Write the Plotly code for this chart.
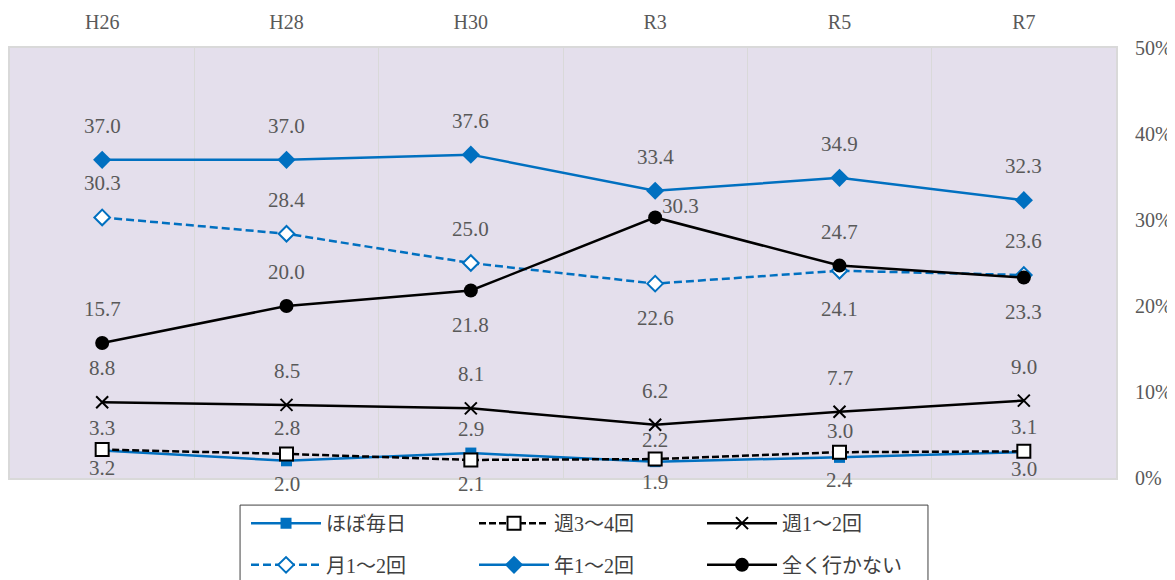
import plotly.graph_objects as go

# ---- data ----
years = ["H26", "H28", "H30", "R3", "R5", "R7"]
hobo_mainichi = [3.2, 2.0, 2.9, 1.9, 2.4, 3.0]
shu_3_4 = [3.3, 2.8, 2.1, 2.2, 3.0, 3.1]
shu_1_2 = [8.8, 8.5, 8.1, 6.2, 7.7, 9.0]
tsuki_1_2 = [30.3, 28.4, 25.0, 22.6, 24.1, 23.6]
nen_1_2 = [37.0, 37.0, 37.6, 33.4, 34.9, 32.3]
mattaku = [15.7, 20.0, 21.8, 30.3, 24.7, 23.3]
series_names = ["ほぼ毎日", "週3～4回", "週1～2回", "月1～2回", "年1～2回", "全く行かない"]
y_ticks = [0, 10, 20, 30, 40, 50]

# ---- styles ----
BLUE = "#0070C0"
BLACK = "#000000"
TXT = "#595959"
FONT = "Liberation Serif, 'Noto Sans CJK JP', serif"

UP, DN = 34, -34
styles = [
    dict(color=BLUE, dash="solid", symbol="square", size=11, fill=BLUE, lc=BLUE, lw=0,
         shifts=[-18, -23, 24, -20, -23, -17], xsh=[0] * 6, legend="legend"),
    dict(color=BLACK, dash="7px,3px", symbol="square", size=13, fill="white", lc=BLACK, lw=2,
         shifts=[22, 26, -24, 19, 21, 24], xsh=[0] * 6, legend="legend"),
    dict(color=BLACK, dash="solid", symbol="x-thin", size=12, fill=BLACK, lc=BLACK, lw=2,
         shifts=[UP] * 6, xsh=[0] * 6, legend="legend"),
    dict(color=BLUE, dash="8px,4px", symbol="diamond", size=12, fill="white", lc=BLUE, lw=2,
         shifts=[UP, UP, UP, DN, -38, UP], xsh=[0] * 6, legend="legend2"),
    dict(color=BLUE, dash="solid", symbol="diamond", size=14, fill=BLUE, lc=BLUE, lw=0,
         shifts=[UP] * 6, xsh=[0] * 6, legend="legend2"),
    dict(color=BLACK, dash="solid", symbol="circle", size=14, fill=BLACK, lc=BLACK, lw=0,
         shifts=[UP, UP, DN, 11, UP, DN], xsh=[0, 0, 0, 25, 0, 0], legend="legend2"),
]
all_values = [hobo_mainichi, shu_3_4, shu_1_2, tsuki_1_2, nen_1_2, mattaku]

fig = go.Figure()
annotations = []
for name, vals, st in zip(series_names, all_values, styles):
    fig.add_trace(go.Scatter(
        x=years, y=vals, name=name, mode="lines+markers",
        line=dict(color=st["color"], width=2.5, dash=st["dash"]),
        marker=dict(symbol=st["symbol"], size=st["size"], color=st["fill"],
                    line=dict(color=st["lc"], width=st["lw"])),
        legend=st["legend"], hoverinfo="skip",
    ))
    for i, v in enumerate(vals):
        annotations.append(dict(
            x=years[i], y=v, text=f"{v:.1f}", showarrow=False,
            yshift=st["shifts"][i], xshift=st["xsh"][i],
            font=dict(family=FONT, size=21, color=TXT),
        ))

legend_common = dict(
    orientation="h", xanchor="left", yanchor="middle", x=0.2134,
    itemwidth=70, entrywidth=143, bgcolor="rgba(0,0,0,0)", borderwidth=0,
    font=dict(family=FONT, size=20, color="#404040"),
)

fig.update_layout(
    width=1175, height=580,
    # page body has an 8px default margin; offsets compensate for it
    margin=dict(l=2, r=67, t=40, b=110, autoexpand=False),
    paper_bgcolor="white",
    plot_bgcolor="#E4DFEC",
    showlegend=True,
    legend=dict(legend_common, y=-0.105),
    legend2=dict(legend_common, y=-0.202),
    annotations=annotations,
    xaxis=dict(
        type="category", side="top", range=[-0.5, 5.5],
        tickson="boundaries", showgrid=True, gridcolor="#D9D9D9", gridwidth=1,
        ticks="", ticklabelstandoff=9,
        showline=True, linecolor="#D9D9D9", linewidth=2, mirror=True,
        tickfont=dict(family=FONT, size=20, color=TXT),
    ),
    yaxis=dict(
        side="right", range=[0, 50], tickvals=y_ticks,
        ticktext=[f"{v}%" for v in y_ticks],
        showgrid=False, zeroline=False,
        ticks="outside", ticklen=13, tickcolor="rgba(0,0,0,0)",
        showline=True, linecolor="#D9D9D9", linewidth=2, mirror=True,
        tickfont=dict(family=FONT, size=20, color=TXT),
    ),
    shapes=[dict(type="rect", xref="paper", yref="paper",
                 x0=0.208, x1=0.830, y0=-0.063, y1=-0.32,
                 line=dict(color="#404040", width=1), fillcolor="rgba(0,0,0,0)")],
)

fig.write_html("out.html")
